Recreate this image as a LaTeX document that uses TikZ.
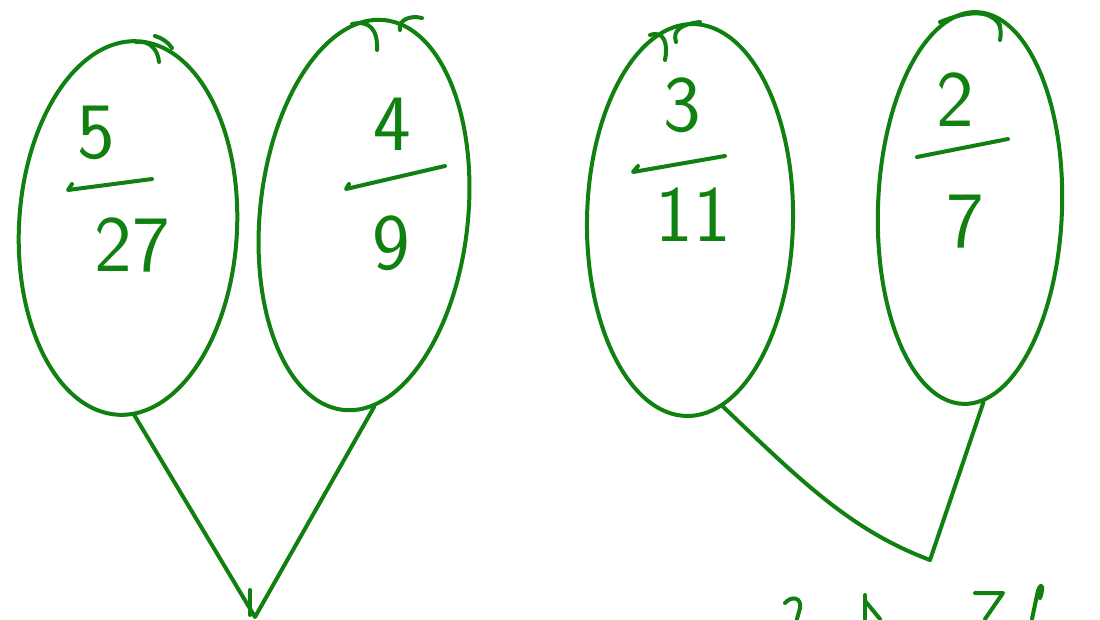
\documentclass[tikz,border=0pt]{standalone}
\usetikzlibrary{shapes.geometric}
\definecolor{ink}{RGB}{16,128,16}
\begin{document}
\begin{tikzpicture}[x=1pt,y=-1pt,
  line cap=round, line join=round,
  stroke/.style={draw=ink, line width=4pt},
  egg/.style={stroke, ellipse, inner sep=0pt, fill=none},
  num/.style={text=ink, font=\sffamily\fontsize{80}{80}\selectfont, inner sep=0pt},
  bar/.style={stroke},
  link/.style={stroke}]
\useasboundingbox (0,0) rectangle (1100,619);
\clip (0,0) rectangle (1100,619);
% ellipses
\node[egg, minimum width=218pt, minimum height=374pt, rotate=-3] (e1) at (128,228) {};
\node[egg, minimum width=208pt, minimum height=392pt, rotate=-6] (e2) at (364,215) {};
\node[egg, minimum width=206pt, minimum height=392pt, rotate=-1] (e3) at (690,220) {};
\node[egg, minimum width=184pt, minimum height=392pt, rotate=-2] (e4) at (970,208) {};
% small overlaps at the tops
\draw[stroke] (136,42) .. controls (150,40) and (158,50) .. (159,62);
\draw[stroke] (155,36) .. controls (162,38) and (168,42) .. (172,48);
\draw[stroke] (352,24) .. controls (370,20) and (378,30) .. (377,50);
\draw[stroke] (400,30) .. controls (398,20) and (410,15) .. (422,18);
\draw[stroke] (650,35) .. controls (665,30) and (668,45) .. (665,60);
\draw[stroke] (676,42) .. controls (672,30) and (682,24) .. (700,22);
\draw[stroke] (940,22) .. controls (970,10) and (990,10) .. (1000,25);
\draw[stroke] (990,16) .. controls (1000,20) and (1002,30) .. (1000,40);
% fractions
\node[num] (n1) at (96,133) {5};
\draw[bar] (72,184) -- (68,190) -- (152,179);
\node[num] (d1) at (132,245) {27};
\node[num] (n2) at (392,124) {4};
\draw[bar] (349,184) -- (346,189) -- (445,166);
\node[num] (d2) at (391,243) {9};
\node[num] (n3) at (682,105) {3};
\draw[bar] (638,166) -- (633,172) -- (725,156);
\node[num] (d3) at (693,215) {11};
\node[num] (n4) at (955,100) {2};
\draw[bar] (917,157) -- (1008,139);
\node[num] (d4) at (965,222) {7};
% connectors
\coordinate (j1) at (255,617);
\coordinate (j2) at (930,560);
\draw[link] (e1.-85) -- (j1) -- (e2.-81);
\draw[link] (250,590) -- (250,615);
\draw[link] (e3.-79) .. controls (800,480) and (850,530) .. (j2) -- (e4.-84);
% partial bottom text
\draw[stroke] (785,603) .. controls (792,595) and (802,598) .. (800,608) -- (797,619);
\draw[stroke] (865,595) -- (865,619);
\draw[stroke] (866,602) -- (880,619);
\draw[stroke] (975,593) -- (1003,593) -- (985,619);
\draw[stroke] (1040,598) .. controls (1045,585) and (1040,580) .. (1037,595) -- (1032,619);
\end{tikzpicture}
\end{document}
